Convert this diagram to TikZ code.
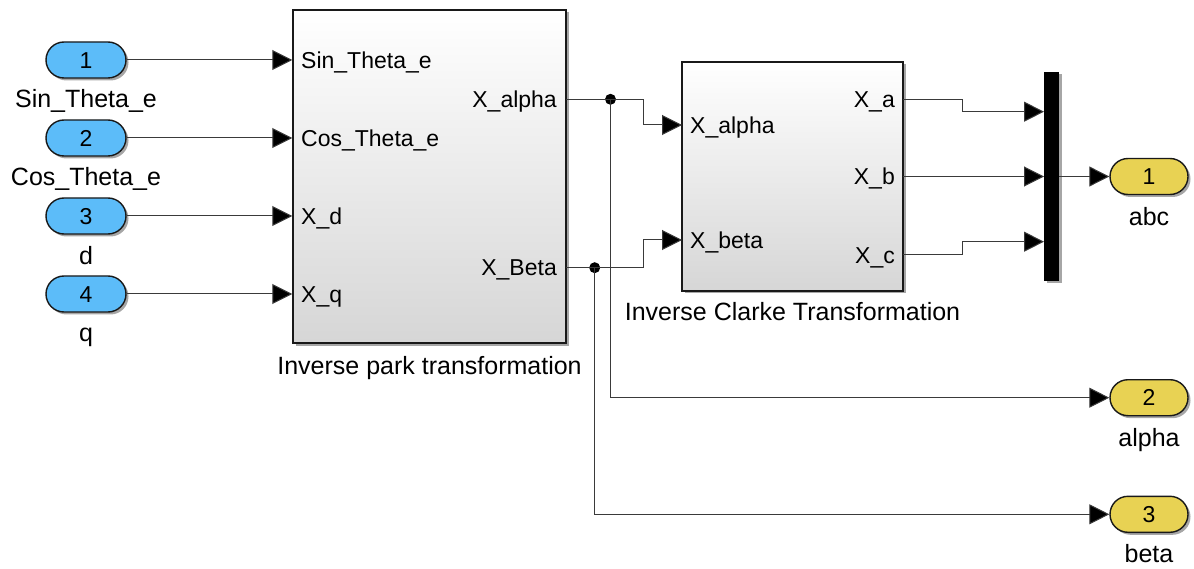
\documentclass[tikz,border=0pt]{standalone}
\usepackage{fontspec}
\setmainfont{Liberation Sans}
\usetikzlibrary{arrows.meta,shadows}

\definecolor{inblue}{HTML}{5CBCF9}
\definecolor{outyellow}{HTML}{E8D253}
\definecolor{blockgray}{HTML}{D6D6D6}
\definecolor{wiregray}{HTML}{3A3A3A}

\begin{document}
\begin{tikzpicture}[x=1pt,y=-1pt,
  wire/.style={line width=1pt, draw=wiregray},
  sig/.style={wire, -{Triangle[length=20pt,width=20pt,fill=black]}},
  softshadow/.style={drop shadow={shadow xshift=2.5pt, shadow yshift=-2.5pt, opacity=0.35, fill=black}},
  pill/.style={draw=black!90, line width=1.4pt, rounded corners=18pt,
    minimum width=80pt, minimum height=36pt, inner sep=0pt,
    font=\fontsize{23}{23}\selectfont, text height=16.5pt, text depth=0pt, softshadow},
  inport/.style={pill, fill=inblue},
  outport/.style={pill, fill=outyellow, minimum width=78pt},
  block/.style={draw=black!90, line width=1.5pt, top color=white, bottom color=blockgray,
    inner sep=0pt, softshadow},
  portlbl/.style={font=\fontsize{23}{23}\selectfont, text height=16.5pt, text depth=0pt, inner sep=0pt},
  blkcaption/.style={font=\fontsize{25}{25}\selectfont, text height=17.9pt, text depth=0pt, inner sep=0pt},
  dot/.style={circle, fill=black, inner sep=0pt, minimum size=11pt}
]
\useasboundingbox (0,0) rectangle (1194,569);

% ---------- blocks ----------
\node[block, minimum width=273pt, minimum height=333pt] (park) at (429.5,176.5) {};
\node[block, minimum width=221pt, minimum height=229pt] (clarke) at (792.5,176.5) {};
\node[fill=black, inner sep=0pt, minimum width=15pt, minimum height=209pt, softshadow] (mux) at (1051.5,176.5) {};

\node[blkcaption] (parkname) at (429.5,366) {Inverse park transformation};
\node[blkcaption] (clarkename) at (792.5,312) {Inverse Clarke Transformation};

% ---------- inports ----------
\node[inport] (in1) at (86,60) {1};
\node[inport] (in2) at (86,138) {2};
\node[inport] (in3) at (86,216) {3};
\node[inport] (in4) at (86,294) {4};
\node[blkcaption] (in1name) at (86,98.5) {Sin\_Theta\_e};
\node[blkcaption] (in2name) at (86,177) {Cos\_Theta\_e};
\node[blkcaption] (in3name) at (86,255.5) {d};
\node[blkcaption] (in4name) at (86,333) {q};

% ---------- outports ----------
\node[outport] (out1) at (1149,176.5) {1};
\node[outport] (out2) at (1149,397.7) {2};
\node[outport] (out3) at (1149,514.3) {3};
\node[blkcaption] (out1name) at (1149,217) {abc};
\node[blkcaption] (out2name) at (1149,438) {alpha};
\node[blkcaption] (out3name) at (1149,554) {beta};

% ---------- port labels ----------
\node[portlbl, anchor=west] (pin1) at (301,60) {Sin\_Theta\_e};
\node[portlbl, anchor=west] (pin2) at (301,138) {Cos\_Theta\_e};
\node[portlbl, anchor=west] (pin3) at (301,216) {X\_d};
\node[portlbl, anchor=west] (pin4) at (301,294) {X\_q};
\node[portlbl, anchor=east] (pout1) at (557,99.3) {X\_alpha};
\node[portlbl, anchor=east] (pout2) at (557,267.7) {X\_Beta};

\node[portlbl, anchor=west] (cin1) at (690,125) {X\_alpha};
\node[portlbl, anchor=west] (cin2) at (690,240) {X\_beta};
\node[portlbl, anchor=east] (cout1) at (895,99.3) {X\_a};
\node[portlbl, anchor=east] (cout2) at (895,176.5) {X\_b};
\node[portlbl, anchor=east] (cout3) at (895,255) {X\_c};

% ---------- port coordinates ----------
\coordinate (parkA) at (566,99.3);
\coordinate (parkB) at (566,267.7);
\coordinate (clkA) at (682,125);
\coordinate (clkB) at (682,240);
\coordinate (clkXa) at (903,99.3);
\coordinate (clkXb) at (903,176.5);
\coordinate (clkXc) at (903,255);
\coordinate (muxA) at (1044,111.7);
\coordinate (muxB) at (1044,176.5);
\coordinate (muxC) at (1044,241.7);

% ---------- connectors ----------
\draw[sig] (in1.east) -- (in1.east -| park.west);
\draw[sig] (in2.east) -- (in2.east -| park.west);
\draw[sig] (in3.east) -- (in3.east -| park.west);
\draw[sig] (in4.east) -- (in4.east -| park.west);

\node[dot] (ja) at (610.5,99.3) {};
\node[dot] (jb) at (594.7,267.7) {};

\draw[wire] (parkA) -- (ja.center);
\draw[sig] (ja.center) -- (643,99.3) |- (clkA);
\draw[wire] (parkB) -- (jb.center);
\draw[sig] (jb.center) -- (643,267.7) |- (clkB);

\draw[sig] (ja.center) |- (out2.west);
\draw[sig] (jb.center) |- (out3.west);

\draw[sig] (clkXa) -- (962.7,99.3) |- (muxA);
\draw[sig] (clkXb) -- (muxB);
\draw[sig] (clkXc) -- (962.7,255) |- (muxC);

\draw[sig] (mux.east) -- (out1.west);
\end{tikzpicture}
\end{document}
